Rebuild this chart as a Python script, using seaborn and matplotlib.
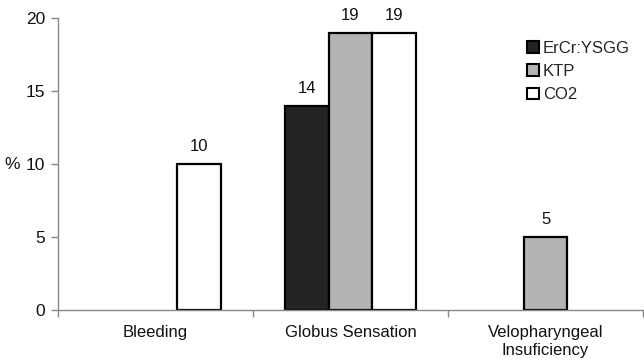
import matplotlib
matplotlib.use("Agg")
import matplotlib.pyplot as plt
import seaborn as sns
import pandas as pd
from matplotlib.patches import Patch

categories = ["Bleeding", "Globus Sensation", "Velopharyngeal\nInsuficiency"]
series = ["ErCr:YSGG", "KTP", "CO2"]
erycr = [0, 14, 0]
ktp = [0, 19, 5]
co2 = [10, 19, 0]
yticks = [0, 5, 10, 15, 20]
colors = {"ErCr:YSGG": "#232323", "KTP": "#b4b4b4", "CO2": "#ffffff"}

rows = []
for s, vals in zip(series, [erycr, ktp, co2]):
    for c, v in zip(categories, vals):
        rows.append({"cat": c, "series": s, "value": v})
df = pd.DataFrame(rows)
df_plot = df[df["value"] > 0]

sns.set_style("white")
plt.rcParams["font.family"] = ["Liberation Sans", "DejaVu Sans"]

fig = plt.figure(figsize=(6.44, 3.62), dpi=100)
ax = fig.add_axes([0.090, 0.1436, 0.9085, 0.8067])

sns.barplot(data=df_plot, x="cat", y="value", hue="series", order=categories,
            hue_order=series, palette=colors, width=0.67, dodge=True,
            edgecolor="black", linewidth=1.6, saturation=1, ax=ax, legend=False)

for cont in ax.containers:
    for bar in cont:
        h = bar.get_height()
        if h and h > 0:
            ax.annotate(f"{h:g}", (bar.get_x() + bar.get_width() / 2, h),
                        xytext=(0, 7), textcoords="offset points",
                        ha="center", va="bottom", fontsize=12, color="#111111")

ax.set_xlim(-0.5, 2.5)
ax.set_ylim(0, 20)
ax.set_yticks(yticks)
ax.set_yticklabels([str(t) for t in yticks], fontsize=12.5, color="#111111")
ax.set_xticks([-0.5, 0.5, 1.5, 2.5])
ax.set_xticklabels([])
ax.set_xticks([0, 1, 2], minor=True)
ax.set_xticklabels(categories, minor=True, fontsize=12, color="#111111",
                   linespacing=1.2)
ax.tick_params(axis="x", which="major", direction="out", length=5, width=1,
               color="#888888", bottom=True)
ax.tick_params(axis="x", which="minor", length=0, pad=11)
ax.tick_params(axis="y", direction="out", length=5, width=1, color="#888888",
               left=True, pad=4)
ax.set_xlabel("")
ax.set_ylabel("%", rotation=0, fontsize=12.5, color="#111111", labelpad=10,
              va="center")

for side in ["top", "right"]:
    ax.spines[side].set_visible(False)
for side in ["left", "bottom"]:
    ax.spines[side].set_color("#888888")
    ax.spines[side].set_linewidth(1)

handles = [Patch(facecolor=colors[s], edgecolor="black", linewidth=1.5, label=s)
           for s in series]
ax.legend(handles=handles, loc="upper left", bbox_to_anchor=(0.79, 0.945),
          frameon=False, fontsize=12, handlelength=0.7, handleheight=0.7,
          handletextpad=0.25, labelspacing=0.5, borderaxespad=0)

fig.savefig("out.png", dpi=100)
